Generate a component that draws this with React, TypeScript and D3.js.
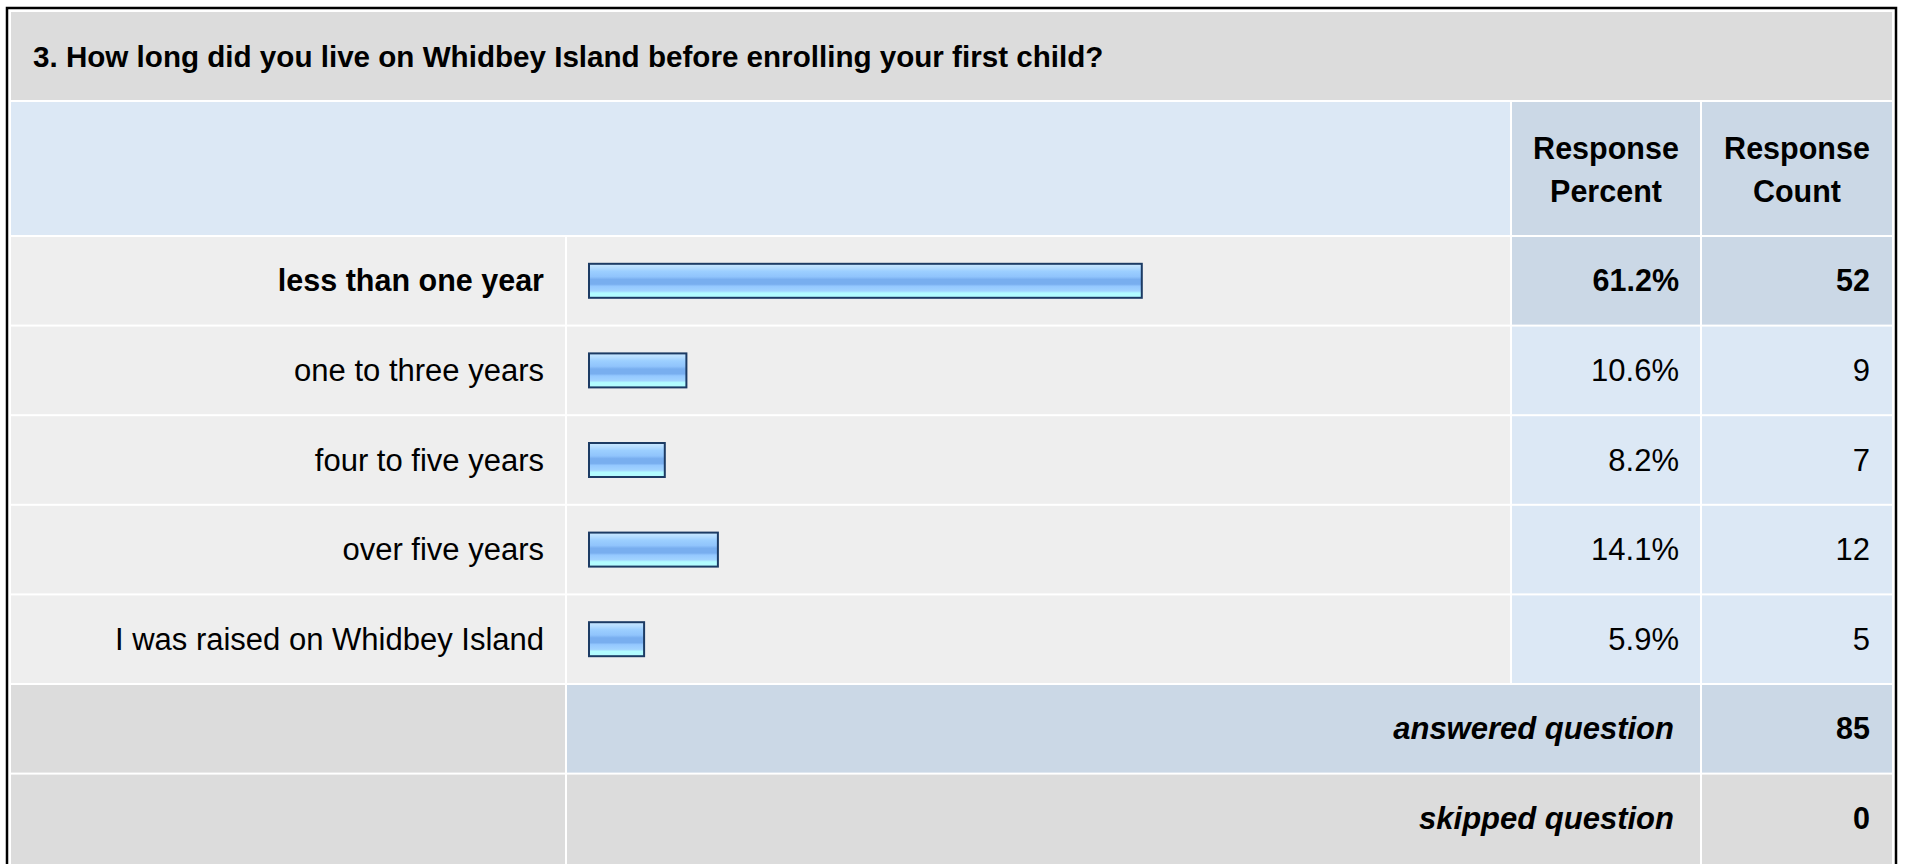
import React from "react";
import * as d3 from "d3";

const title = "3. How long did you live on Whidbey Island before enrolling your first child?";
const headerPercent = ["Response", "Percent"];
const headerCount = ["Response", "Count"];
const categories = [
  "less than one year",
  "one to three years",
  "four to five years",
  "over five years",
  "I was raised on Whidbey Island",
];
const percents = [61.2, 10.6, 8.2, 14.1, 5.9];
const counts = [52, 9, 7, 12, 5];
const summaryLabels = ["answered question", "skipped question"];
const summaryValues = [85, 0];

const W = 1907;
const H = 864;
const FONT = "'Liberation Sans', Arial, Helvetica, sans-serif";
const FS = 30;
const FS_REG = 31;
const FS_BOLD = 30.5;
const FS_TITLE = 29.6;
const FS_ITAL = 31;

const C = {
  gray: "#dcdcdc",
  light: "#eeeeee",
  blue: "#dce8f5",
  blueDark: "#cbd8e6",
  border: "#1c3b64",
};

export default function App() {
  const colLabel = [11, 565];
  const colBar = [567, 1510];
  const colPct = [1512, 1700];
  const colCnt = [1702, 1892];
  const titleY = [12, 100];
  const headY = [102, 235];
  const rowTop = 237;
  const pitch = 89.6;

  const x = d3.scaleLinear().domain([0, 100]).range([0, 900]);
  const maxP = d3.max(percents) as number;
  const fmt = (v: number) => d3.format(".1f")(v) + "%";

  const allRows = categories.length + summaryLabels.length;
  const rowY = (i: number) => rowTop + i * pitch;
  const rowH = pitch - 2;

  const cell = (x0: number, x1: number, y0: number, h: number, fill: string, key: string) => (
    <rect key={key} x={x0} y={y0} width={x1 - x0} height={h} fill={fill} />
  );

  const textBase = (y0: number, h: number) => y0 + h / 2 + FS * 0.355;
  const pctEnd = colPct[1] - 21;
  const cntEnd = colCnt[1] - 22;

  return (
    <svg
      width={W}
      height={H}
      style={{ position: "absolute", left: 0, top: 0, background: "#fff" }}
      fontFamily={FONT}
    >
      <defs>
        <linearGradient id="barGrad" x1="0" y1="0" x2="0" y2="1">
          <stop offset="0%" stopColor="#cbe9ff" />
          <stop offset="12%" stopColor="#b4dcff" />
          <stop offset="22%" stopColor="#9ccfff" />
          <stop offset="38%" stopColor="#90c4fc" />
          <stop offset="46%" stopColor="#78aeef" />
          <stop offset="60%" stopColor="#78aeef" />
          <stop offset="66%" stopColor="#94c8ff" />
          <stop offset="80%" stopColor="#a2d4ff" />
          <stop offset="86%" stopColor="#b2fcff" />
          <stop offset="100%" stopColor="#b2fcff" />
        </linearGradient>
      </defs>
      <rect x={7} y={8} width={1889} height={H + 20} fill="#fff" stroke="#000" strokeWidth={2.5} />
      {cell(colLabel[0], colCnt[1], titleY[0], titleY[1] - titleY[0], C.gray, "t")}
      <text x={33} y={textBase(titleY[0], titleY[1] - titleY[0])} fontSize={FS_TITLE} fontWeight="bold">
        {title}
      </text>
      {cell(colLabel[0], colBar[1], headY[0], headY[1] - headY[0], C.blue, "h1")}
      {cell(colPct[0], colPct[1], headY[0], headY[1] - headY[0], C.blueDark, "h2")}
      {cell(colCnt[0], colCnt[1], headY[0], headY[1] - headY[0], C.blueDark, "h3")}
      {[headerPercent, headerCount].map((lines, k) => {
        const col = k === 0 ? colPct : colCnt;
        const cx = (col[0] + col[1]) / 2;
        return lines.map((l, j) => (
          <text key={`hd${k}${j}`} x={cx} y={158.5 + j * 43.5} fontSize={FS_BOLD} fontWeight="bold" textAnchor="middle">
            {l}
          </text>
        ));
      })}
      {categories.map((cat, i) => {
        const y0 = rowY(i);
        const hi = percents[i] === maxP;
        const cy = y0 + rowH / 2;
        const tb = textBase(y0, rowH);
        const fs = hi ? FS_BOLD : FS_REG;
        const fw = hi ? "bold" : "normal";
        return (
          <g key={cat}>
            {cell(colLabel[0], colLabel[1], y0, rowH, C.light, "a")}
            {cell(colBar[0], colBar[1], y0, rowH, C.light, "b")}
            {cell(colPct[0], colPct[1], y0, rowH, hi ? C.blueDark : C.blue, "c")}
            {cell(colCnt[0], colCnt[1], y0, rowH, hi ? C.blueDark : C.blue, "d")}
            <text x={colLabel[1] - 21} y={tb} fontSize={fs} fontWeight={fw} textAnchor="end">
              {cat}
            </text>
            <rect
              x={589}
              y={cy - 17}
              width={x(percents[i]) + 2}
              height={34}
              fill="url(#barGrad)"
              stroke={C.border}
              strokeWidth={2}
            />
            <text x={pctEnd} y={tb} fontSize={fs} fontWeight={fw} textAnchor="end">
              {fmt(percents[i])}
            </text>
            <text x={cntEnd} y={tb} fontSize={fs} fontWeight={fw} textAnchor="end">
              {counts[i]}
            </text>
          </g>
        );
      })}
      {summaryLabels.map((lab, j) => {
        const i = categories.length + j;
        const y0 = rowY(i);
        const h = i === allRows - 1 ? H + 10 - y0 : rowH;
        const tb = textBase(y0, rowH);
        const mid = j === 0 ? C.blueDark : C.gray;
        return (
          <g key={lab}>
            {cell(colLabel[0], colLabel[1], y0, h, C.gray, "a")}
            {cell(colBar[0], colPct[1], y0, h, mid, "b")}
            {cell(colCnt[0], colCnt[1], y0, h, mid, "c")}
            <text x={colPct[1] - 26} y={tb} fontSize={FS_ITAL} fontWeight="bold" fontStyle="italic" textAnchor="end">
              {lab}
            </text>
            <text x={cntEnd} y={tb} fontSize={FS_BOLD} fontWeight="bold" textAnchor="end">
              {summaryValues[j]}
            </text>
          </g>
        );
      })}
    </svg>
  );
}
